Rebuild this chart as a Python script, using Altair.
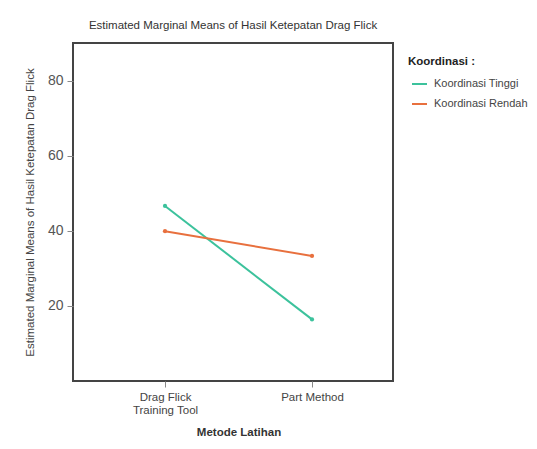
import altair as alt
import pandas as pd

metode = ["Drag Flick Training Tool", "Part Method"]
tinggi = [46.6, 16.4]
rendah = [39.9, 33.3]
groups = ["Koordinasi Tinggi", "Koordinasi Rendah"]

rows = []
for g, vals in zip(groups, [tinggi, rendah]):
    for m, v in zip(metode, vals):
        rows.append({"Metode": m, "Mean": v, "Koordinasi": g})
df = pd.DataFrame(rows)

FONT = "Liberation Sans"

chart = alt.Chart(df).mark_line(
    strokeWidth=2,
    point=alt.OverlayMarkDef(size=18, filled=True, opacity=1),
).encode(
    x=alt.X(
        "Metode:N",
        sort=metode,
        scale=alt.Scale(type="point", padding=0, range=[92, 239]),
        axis=alt.Axis(
            title="Metode Latihan",
            titleFont=FONT, titleFontSize=11.5, titleFontWeight="bold", titleColor="#333",
            titlePadding=10,
            labelFont=FONT, labelFontSize=11.5, labelColor="#444", labelPadding=4,
            labelAngle=0,
            labelExpr="datum.label == 'Drag Flick Training Tool' ? ['Drag Flick', 'Training Tool'] : datum.label",
            tickSize=6, tickColor="#888", domain=False, grid=False,
        ),
    ),
    y=alt.Y(
        "Mean:Q",
        scale=alt.Scale(domain=[0, 90], nice=False, zero=False),
        axis=alt.Axis(
            title="Estimated Marginal Means of Hasil Ketepatan Drag Flick",
            titleFont=FONT, titleFontSize=11.5, titleFontWeight="normal", titleColor="#444",
            titlePadding=12,
            values=[20, 40, 60, 80],
            labelFont=FONT, labelFontSize=14, labelColor="#555", labelPadding=4,
            tickSize=6, tickColor="#888", domain=False, grid=False,
        ),
    ),
    color=alt.Color(
        "Koordinasi:N",
        sort=groups,
        scale=alt.Scale(domain=groups, range=["#3cc29c", "#e8703e"]),
        legend=alt.Legend(
            title="Koordinasi :",
            titleFont=FONT, titleFontSize=11.5, titleFontWeight="bold", titleColor="#222",
            titlePadding=8,
            labelFont=FONT, labelFontSize=11, labelColor="#444", labelOffset=6,
            symbolType="stroke", symbolStrokeWidth=2, symbolSize=225, symbolOffset=3,
            orient="none", legendX=335, legendY=13, rowPadding=6,
        ),
    ),
).properties(
    width=320,
    height=338,
    title=alt.TitleParams(
        "Estimated Marginal Means of Hasil Ketepatan Drag Flick",
        font=FONT, fontSize=11.5, fontWeight="normal", color="#333", offset=12,
    ),
    padding={"left": 65, "top": 35, "right": 136, "bottom": 55},
    autosize="none",
).configure(
    background="white",
    view=alt.ViewConfig(stroke="#444", strokeWidth=2),
)

chart.save("out.html", embed_options={"renderer": "svg", "actions": False})
